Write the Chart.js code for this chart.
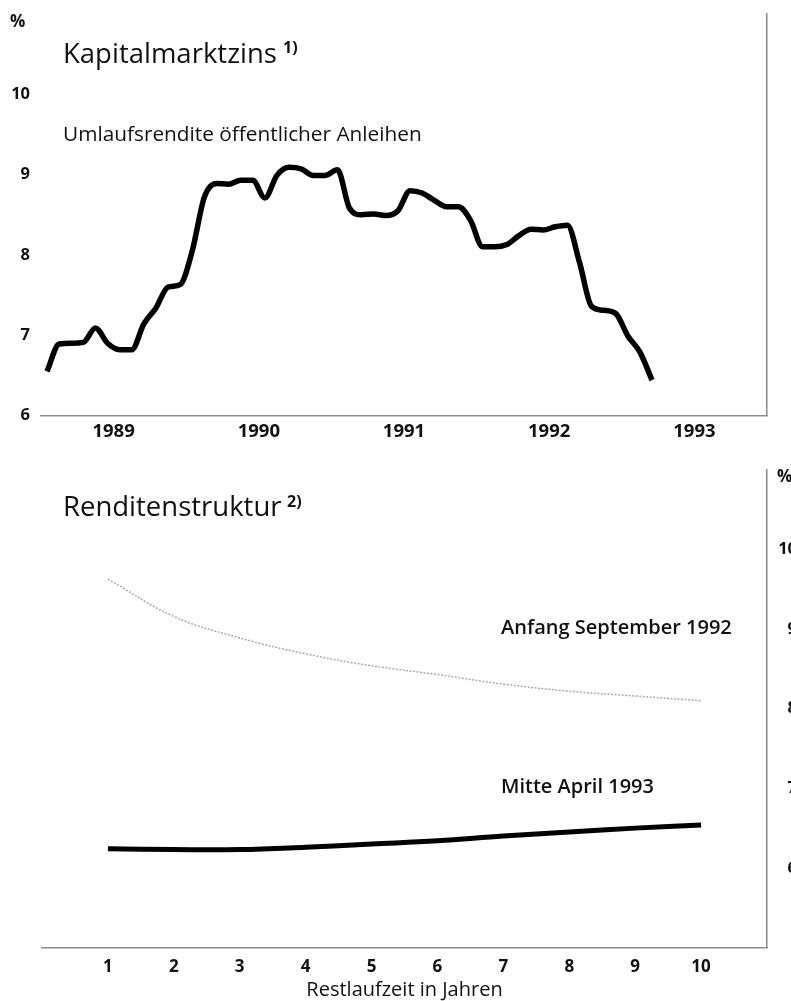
<!DOCTYPE html>
<html>
<head>
<meta charset="utf-8">
<script src="https://cdn.jsdelivr.net/npm/chart.js@4.4.1/dist/chart.umd.min.js"></script>
<style>
  html, body { margin: 0; padding: 0; background: #fff; overflow: hidden; width: 791px; height: 1001px; }
  #top { position: absolute; left: 0; top: 0; width: 791px; height: 450px; }
  #bottom { position: absolute; left: 0; top: 440px; width: 797px; height: 570px; }
</style>
</head>
<body>
<div id="top"><canvas id="zinsChart"></canvas></div>
<div id="bottom"><canvas id="strukturChart"></canvas></div>
<script>
// Kapitalmarktzins: Umlaufsrendite, monthly Jan 1989 - Mar 1993
const yearLabels = ["1989", "1990", "1991", "1992", "1993"];
const umlaufsrendite = [
    6.55, 6.89, 6.90, 6.91, 7.09, 6.90, 6.82, 6.82, 7.14, 7.34, 7.60, 7.63,   // 1989
    8.05, 8.72, 8.89, 8.88, 8.93, 8.93, 8.71, 8.99, 9.09, 9.07, 8.99, 8.99,   // 1990
    9.06, 8.58, 8.50, 8.51, 8.49, 8.55, 8.80, 8.77, 8.68, 8.60, 8.60, 8.43,   // 1991
    8.10, 8.10, 8.13, 8.24, 8.32, 8.31, 8.35, 8.37, 7.91, 7.36, 7.31, 7.27,   // 1992
    6.99, 6.79, 6.44                                                          // 1993
];
const zinsTicks = [6, 7, 8, 9, 10];

// Renditenstruktur
const restlaufzeit = [1, 2, 3, 4, 5, 6, 7, 8, 9, 10];
const anfangSeptember1992 = [9.63, 9.16, 8.89, 8.69, 8.54, 8.43, 8.31, 8.22, 8.16, 8.10];
const mitteApril1993 = [6.24, 6.23, 6.23, 6.26, 6.30, 6.34, 6.40, 6.45, 6.50, 6.54];
const strukturTicks = [6, 7, 8, 9, 10];

const FONT = "'Open Sans', 'Noto Sans', sans-serif";
const axisColor = "#8c8c8c";

function textPlugin(items) {
    return {
        id: "texts",
        afterDraw(chart) {
            const ctx = chart.ctx;
            items.forEach(t => {
                ctx.save();
                ctx.font = t.font;
                ctx.fillStyle = "#111";
                ctx.textBaseline = "middle";
                ctx.textAlign = "left";
                ctx.fillText(t.text, t.x, t.y);
                ctx.restore();
            });
        }
    };
}

// ---------- top chart ----------
const zinsPoints = umlaufsrendite.map((v, i) => ({ x: i + 0.5, y: v }));

new Chart(document.getElementById("zinsChart"), {
    type: "line",
    data: {
        datasets: [{
            data: zinsPoints,
            borderColor: "#000",
            borderWidth: 5.5,
            pointRadius: 0,
            cubicInterpolationMode: "monotone",
            borderCapStyle: "butt",
            borderJoinStyle: "round"
        }]
    },
    options: {
        responsive: true,
        maintainAspectRatio: false,
        animation: false,
        layout: { padding: { top: 14, left: 0, right: 0, bottom: 0 } },
        plugins: { legend: { display: false }, tooltip: { enabled: false } },
        scales: {
            x: {
                type: "linear",
                min: 0,
                max: 60,
                afterBuildTicks: axis => {
                    axis.ticks = yearLabels.map((y, i) => ({ value: i * 12 + 6 }));
                },
                ticks: {
                    callback: v => yearLabels[(v - 6) / 12],
                    font: { family: FONT, size: 18.5, weight: "bold" },
                    color: "#111",
                    padding: 5,
                    maxRotation: 0
                },
                grid: { display: false, drawTicks: false },
                border: { display: true, color: axisColor, width: 1.5, dash: [2, 1] },
                afterFit: s => { s.height = 34.5; s.paddingLeft = 0; s.paddingRight = 0; }
            },
            y: {
                min: 6,
                max: 11,
                afterBuildTicks: axis => {
                    axis.ticks = zinsTicks.map(v => ({ value: v }));
                },
                ticks: {
                    font: { family: FONT, size: 16.5, weight: "bold" },
                    color: "#111",
                    padding: 11
                },
                grid: { display: false, drawTicks: false },
                border: { display: false },
                afterFit: s => { s.width = 41; s.paddingTop = 0; s.paddingBottom = 0; }
            },
            yRight: {
                position: "right",
                min: 6,
                max: 11,
                ticks: { display: false },
                grid: { display: false, drawTicks: false },
                border: { display: true, color: axisColor, width: 1.5, dash: [2, 1] },
                afterFit: s => { s.width = 24; s.paddingTop = 0; s.paddingBottom = 0; }
            }
        }
    },
    plugins: [textPlugin([
        { text: "%", x: 10, y: 22, font: "bold 17px " + FONT },
        { text: "Kapitalmarktzins", x: 63, y: 55, font: "27.5px " + FONT },
        { text: "1)", x: 283, y: 48, font: "bold 16px " + FONT },
        { text: "Umlaufsrendite öffentlicher Anleihen", x: 63, y: 135, font: "20.8px " + FONT }
    ])]
});

// ---------- bottom chart ----------
new Chart(document.getElementById("strukturChart"), {
    type: "line",
    data: {
        datasets: [{
            data: restlaufzeit.map((x, i) => ({ x: x, y: anfangSeptember1992[i] })),
            borderColor: "#ababab",
            borderWidth: 1.5,
            borderDash: [2, 1.5],
            pointRadius: 0,
            tension: 0.4
        }, {
            data: restlaufzeit.map((x, i) => ({ x: x, y: mitteApril1993[i] })),
            borderColor: "#000",
            borderWidth: 5,
            pointRadius: 0,
            tension: 0.4,
            borderCapStyle: "butt"
        }]
    },
    options: {
        responsive: true,
        maintainAspectRatio: false,
        animation: false,
        layout: { padding: { top: 30, left: 42, right: 0, bottom: 7.5 } },
        plugins: { legend: { display: false }, tooltip: { enabled: false } },
        scales: {
            x: {
                type: "linear",
                min: 0,
                max: 11,
                afterBuildTicks: axis => {
                    axis.ticks = restlaufzeit.map(v => ({ value: v }));
                },
                ticks: {
                    font: { family: FONT, size: 17, weight: "bold" },
                    color: "#111",
                    padding: 9,
                    maxRotation: 0
                },
                title: {
                    display: true,
                    text: "Restlaufzeit in Jahren",
                    font: { family: FONT, size: 20 },
                    color: "#111",
                    padding: 0
                },
                grid: { display: false, drawTicks: false },
                border: { display: true, color: axisColor, width: 1.5, dash: [2, 1] },
                afterFit: s => { s.height = 55; }
            },
            y: {
                position: "right",
                min: 5,
                max: 11,
                afterBuildTicks: axis => {
                    axis.ticks = strukturTicks.map(v => ({ value: v }));
                },
                ticks: {
                    font: { family: FONT, size: 16.5, weight: "bold" },
                    color: "#111",
                    padding: 11,
                    crossAlign: "far"
                },
                grid: { display: false, drawTicks: false },
                border: { display: true, color: axisColor, width: 1.5, dash: [2, 1] },
                afterFit: s => { s.width = 30; }
            }
        }
    },
    plugins: [textPlugin([
        { text: "%", x: 777, y: 37, font: "bold 17px " + FONT },
        { text: "Renditenstruktur", x: 63, y: 68, font: "27.5px " + FONT },
        { text: "2)", x: 287, y: 62, font: "bold 16px " + FONT },
        { text: "Anfang September 1992", x: 501, y: 188, font: "600 20px " + FONT },
        { text: "Mitte April 1993", x: 501, y: 347, font: "600 20px " + FONT }
    ])]
});
</script>
</body>
</html>
